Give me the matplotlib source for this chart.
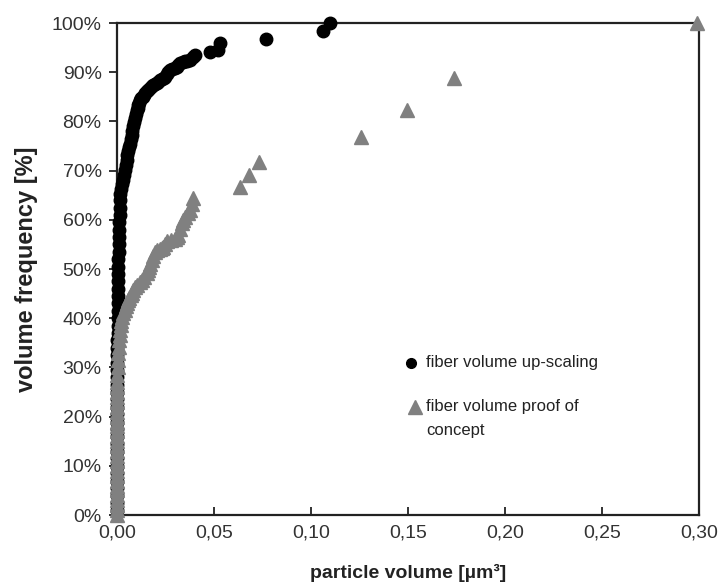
import matplotlib.pyplot as plt
from matplotlib.ticker import FuncFormatter, MultipleLocator

plt.rcParams['font.family'] = ['Liberation Sans', 'DejaVu Sans']

# cumulative volume frequency [%] over particle volume [µm³], up-scaling batch
upscaling_volume = [
    0.0000, 0.0000, 0.0000, 0.0000, 0.0000, 0.0000, 0.0000, 0.0000, 0.0000, 0.0000,
    0.0000, 0.0000, 0.0000, 0.0000, 0.0000, 0.0000, 0.0000, 0.0000, 0.0000, 0.0000,
    0.0001, 0.0001, 0.0002, 0.0002, 0.0003, 0.0003,
    0.0003, 0.0004, 0.0004, 0.0004, 0.0005, 0.0005, 0.0006, 0.0006,
    0.0007, 0.0008, 0.0009, 0.0010, 0.0011, 0.0012, 0.0013, 0.0014, 0.0015,
    0.0018, 0.0022, 0.0027, 0.0033, 0.0038, 0.0042, 0.0046, 0.0050, 0.0054, 0.0058,
    0.0062, 0.0067, 0.0071, 0.0075, 0.0079, 0.0084, 0.0088, 0.0093, 0.0097, 0.0102,
    0.0106, 0.0110, 0.0115, 0.0119, 0.0125, 0.0132, 0.0138, 0.0145, 0.0153, 0.0162,
    0.0170, 0.0179, 0.0188, 0.0196, 0.0205, 0.0213, 0.0222, 0.0230, 0.0240, 0.0248,
    0.0256, 0.0265, 0.0275, 0.0285, 0.0297, 0.0308, 0.0317, 0.0325, 0.0338, 0.0350,
    0.0363, 0.0377, 0.0390, 0.0403, 0.0480, 0.0520, 0.0530, 0.0768, 0.1062, 0.1100]
upscaling_freq = [
    1.0, 2.5, 4.0, 5.5, 7.0, 8.5, 10.0, 11.5, 13.0, 14.5,
    16.0, 17.5, 19.0, 20.5, 22.0, 23.5, 25.0, 26.5, 28.0, 29.5,
    31.0, 32.5, 34.0, 35.5, 37.0, 38.5,
    40.0, 41.5, 43.0, 44.5, 46.0, 47.5, 49.0, 50.5,
    52.0, 53.5, 55.0, 56.5, 58.0, 59.5, 61.0, 62.5, 64.0,
    65.2, 66.3, 67.2, 68.1, 69.1, 70.2, 71.2, 72.2, 73.1, 74.0,
    74.8, 75.5, 76.4, 77.3, 78.1, 79.0, 79.9, 80.7, 81.5, 82.3,
    82.8, 83.3, 83.8, 84.3, 84.7, 85.0, 85.4, 85.7, 86.1, 86.4,
    86.8, 87.1, 87.4, 87.6, 87.9, 88.1, 88.4, 88.6, 88.8, 89.0,
    89.6, 90.1, 90.4, 90.6, 90.9, 91.1, 91.5, 91.8, 92.0, 92.2,
    92.3, 92.5, 93.0, 93.5, 94.2, 94.6, 96.0, 96.7, 98.4, 100.0]

# cumulative volume frequency [%] over particle volume [µm³], proof of concept batch
concept_volume = [
    0.0000, 0.0000, 0.0000, 0.0000, 0.0000, 0.0000, 0.0000, 0.0000, 0.0000, 0.0000,
    0.0000, 0.0000, 0.0000, 0.0000, 0.0000, 0.0000, 0.0000, 0.0000, 0.0000, 0.0000,
    0.0000, 0.0000, 0.0000, 0.0000, 0.0000, 0.0000, 0.0000, 0.0000,
    0.0001, 0.0003, 0.0005, 0.0007, 0.0009, 0.0011, 0.0013, 0.0015, 0.0019, 0.0023,
    0.0028, 0.0033, 0.0039, 0.0045, 0.0051, 0.0058, 0.0064, 0.0070, 0.0077, 0.0084,
    0.0094, 0.0105, 0.0116, 0.0127, 0.0140, 0.0153, 0.0160, 0.0166, 0.0172, 0.0179,
    0.0188, 0.0196, 0.0208, 0.0220, 0.0230, 0.0239, 0.0248, 0.0257, 0.0278, 0.0300,
    0.0308, 0.0317, 0.0325, 0.0334, 0.0342, 0.0351, 0.0364, 0.0377, 0.0385, 0.0394,
    0.0635, 0.0678, 0.0730, 0.1259, 0.1496, 0.1737, 0.2990]
concept_freq = [
    0.0, 1.0, 2.0, 3.0, 4.0, 5.0, 6.0, 7.0, 8.0, 9.0,
    10.0, 11.0, 12.0, 13.0, 14.0, 15.0, 16.0, 17.0, 18.0, 19.0,
    20.0, 21.0, 22.0, 23.0, 24.0, 25.0, 26.0, 27.0,
    28.5, 30.0, 31.5, 32.9, 34.2, 35.5, 36.6, 37.6, 38.6, 39.5,
    40.3, 41.0, 41.7, 42.4, 43.1, 43.7, 44.2, 44.7, 45.2, 45.7,
    46.3, 46.8, 47.3, 47.8, 48.4, 49.1, 49.8, 50.5, 51.1, 51.8,
    52.7, 53.5, 53.8, 54.0, 54.2, 54.5, 55.0, 55.6, 55.9, 56.2,
    56.5, 56.9, 58.1, 59.3, 60.0, 60.6, 61.3, 62.0, 63.2, 64.4,
    66.7, 69.1, 71.8, 76.9, 82.3, 88.8, 100.0]

legend_labels = ['fiber volume up-scaling', 'fiber volume proof of\nconcept']

fig = plt.figure(figsize=(7.2, 5.83), dpi=100)
ax = fig.add_axes([0.1625, 0.1166, 0.8083, 0.8439])

ax.plot(upscaling_volume, upscaling_freq, 'o', color='black', markersize=9,
        linestyle='none', clip_on=False, zorder=3)
ax.plot(concept_volume, concept_freq, '^', color='#808080', markersize=10,
        linestyle='none', clip_on=False, zorder=4)

ax.set_xlim(0, 0.30)
ax.set_ylim(0, 100)
ax.xaxis.set_major_locator(MultipleLocator(0.05))
ax.yaxis.set_major_locator(MultipleLocator(10))
ax.xaxis.set_major_formatter(FuncFormatter(lambda v, _: f'{v:.2f}'.replace('.', ',')))
ax.yaxis.set_major_formatter(FuncFormatter(lambda v, _: f'{v:.0f}%'))
ax.tick_params(axis='x', direction='in', length=6, width=1.3, labelsize=14, pad=7,
               colors='#222222', labelcolor='#333333')
ax.tick_params(axis='y', direction='out', length=6, width=1.3, labelsize=14, pad=5,
               colors='#222222', labelcolor='#333333')
for side in ax.spines.values():
    side.set_linewidth(1.6)
    side.set_color('#222222')

ax.set_xlabel('particle volume [µm³]', fontsize=14, fontweight='bold', labelpad=16,
              color='#222222')
ax.set_ylabel('volume frequency [%]', fontsize=17, fontweight='bold', labelpad=10,
              color='#222222')

# legend drawn by hand so the triangle sits on the first line of its label
ax.plot([0.506], [0.309], 'o', color='black', markersize=7, transform=ax.transAxes,
        clip_on=False)
ax.text(0.531, 0.309, legend_labels[0], transform=ax.transAxes, fontsize=12,
        va='center', ha='left', color='#222222')
ax.plot([0.512], [0.2195], '^', color='#808080', markersize=10, transform=ax.transAxes,
        clip_on=False)
ax.text(0.531, 0.2365, legend_labels[1], transform=ax.transAxes, fontsize=12,
        va='top', ha='left', color='#222222', linespacing=1.8)

fig.savefig('out.png', dpi=100)
